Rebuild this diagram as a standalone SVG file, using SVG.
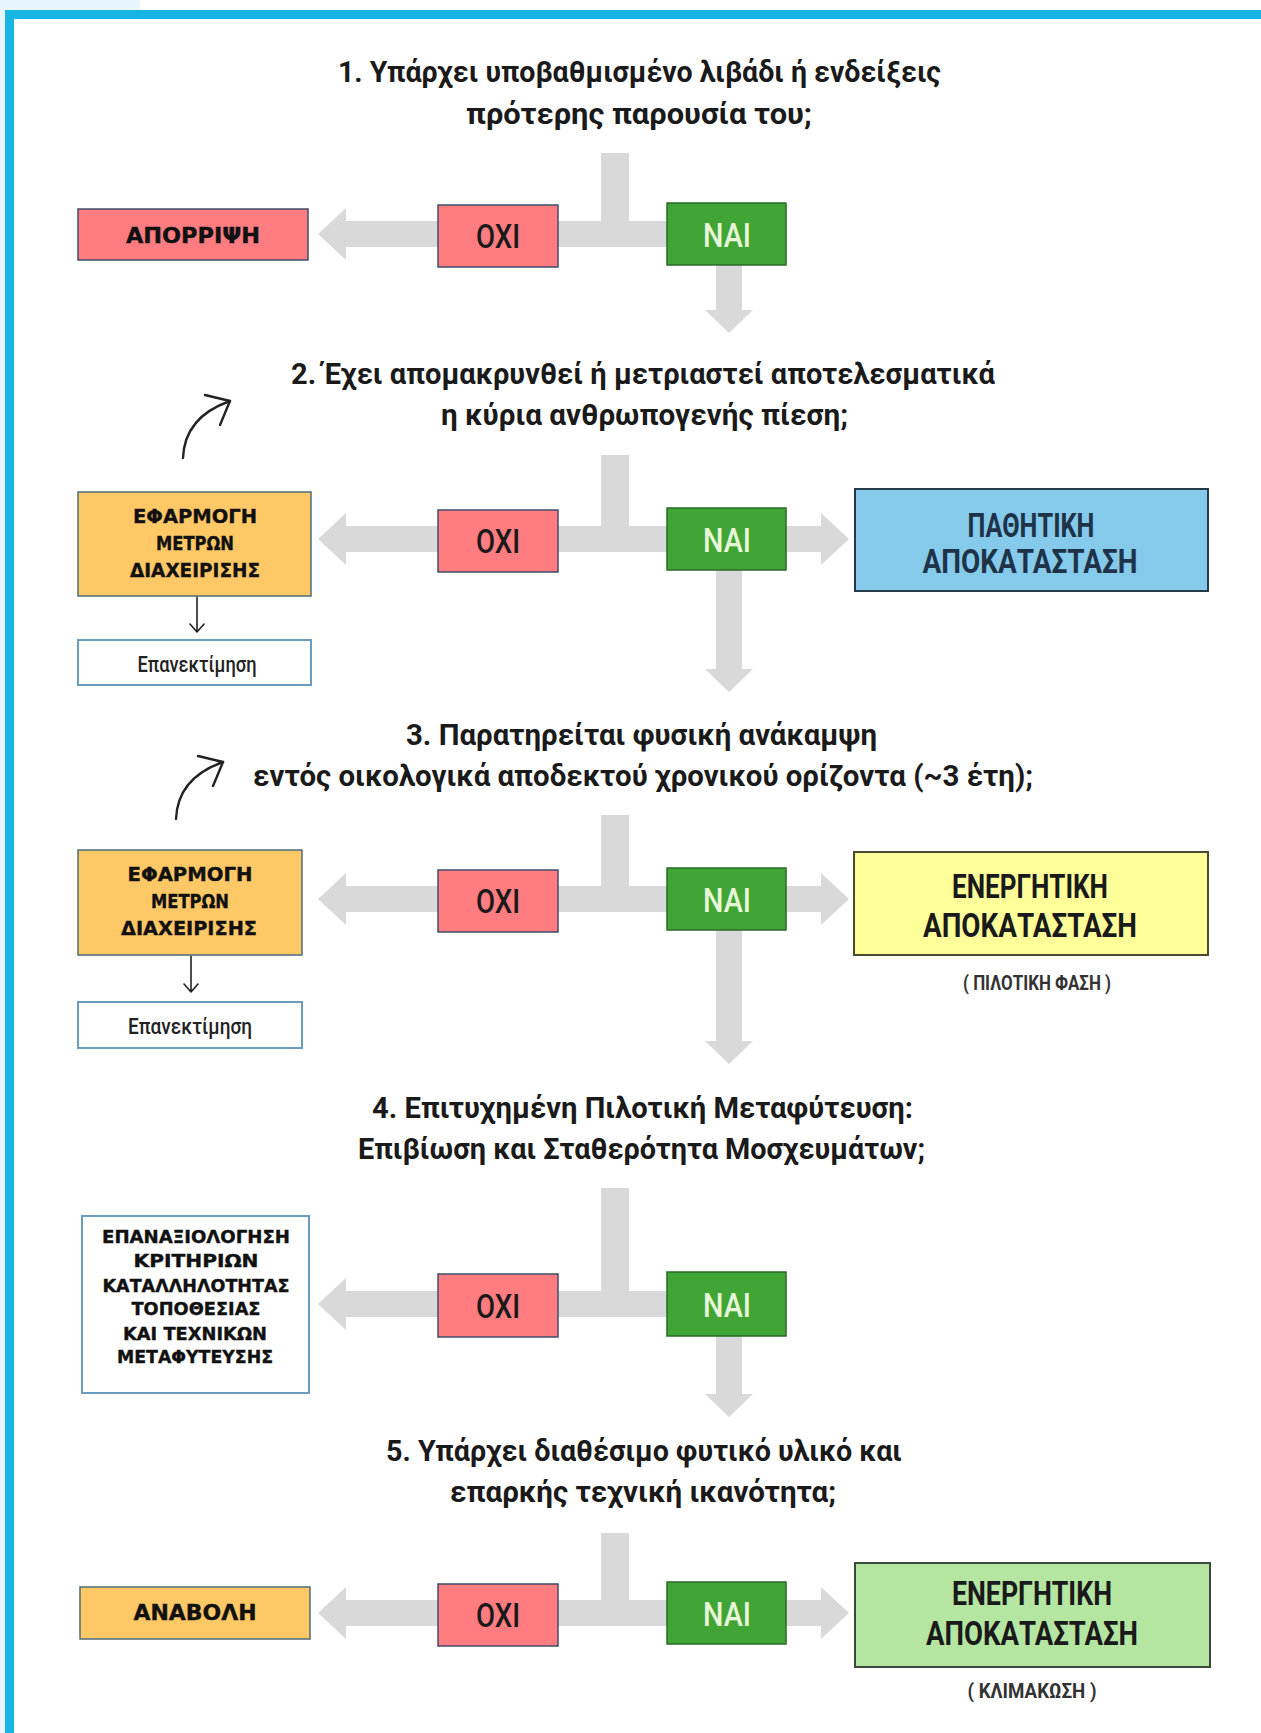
<svg xmlns="http://www.w3.org/2000/svg" width="1261" height="1733" viewBox="0 0 1261 1733">
<defs>
<style>
.title{font-family:"Roboto","Noto Sans","DejaVu Sans",sans-serif;font-weight:700;font-size:30px;fill:#1a1a1a}
.yn{font-family:"Roboto","Noto Sans","DejaVu Sans",sans-serif;font-weight:500;font-size:34px;text-anchor:middle}
.heavy{font-family:"DejaVu Sans","Noto Sans",sans-serif;font-weight:700;fill:#111;stroke:#111;stroke-width:0.4;text-anchor:middle}
.big{font-family:"Roboto","Noto Sans","DejaVu Sans",sans-serif;font-weight:700;font-size:33px;text-anchor:middle}
.sub{font-family:"Roboto","Noto Sans","DejaVu Sans",sans-serif;font-weight:700;font-size:20px;fill:#333;text-anchor:middle}
.re{font-family:"Roboto","Noto Sans","DejaVu Sans",sans-serif;font-weight:500;font-size:22px;fill:#222;text-anchor:middle}
.gray{fill:#d9d9d9}
.oxi{fill:#ff7c80;stroke:#3f4d6a;stroke-width:1.5}
.nai{fill:#40a535;stroke:#2a6a2a;stroke-width:1.5}
.orange{fill:#ffc866;stroke:#4d6b78;stroke-width:1.5}
.white{fill:#ffffff;stroke:#6b9bbd;stroke-width:2}
.pen{fill:none;stroke:#222;stroke-width:2.4;stroke-linecap:round;stroke-linejoin:round}
.thin{fill:none;stroke:#222;stroke-width:1.6;stroke-linecap:round;stroke-linejoin:round}
</style>
</defs>
<rect x="0" y="0" width="1261" height="1733" fill="#ffffff"/>
<rect x="0" y="0" width="140" height="10" fill="#e6f6fc"/>
<rect x="0" y="0" width="5" height="1733" fill="#e6f6fc"/>
<rect x="5" y="10" width="1256" height="9" fill="#18b4e4"/>
<rect x="5" y="10" width="9" height="1723" fill="#18b4e4"/>

<g id="connectors">
<!-- section 1 -->
<rect class="gray" x="601" y="153" width="28" height="81"/>
<path class="gray" d="M318,234 L346,208 L346,221 L700,221 L700,247 L346,247 L346,260 Z"/>
<path class="gray" d="M716,250 L742,250 L742,310 L753,310 L729,333 L705,310 L716,310 Z"/>
<!-- section 2 -->
<rect class="gray" x="601" y="455" width="28" height="84"/>
<path class="gray" d="M318,539 L346,513 L346,526 L700,526 L700,552 L346,552 L346,565 Z"/>
<path class="gray" d="M760,526 L821,526 L821,513 L849,539 L821,565 L821,552 L760,552 Z"/>
<path class="gray" d="M716,555 L742,555 L742,669 L753,669 L729,692 L705,669 L716,669 Z"/>
<path class="pen" d="M183,458 C184,432 199,412 230,401"/>
<path class="pen" d="M205,395 L230,401 L220,425"/>
<path class="thin" d="M197,597 L197,632 M190,624 L197,632 L204,624"/>
<!-- section 3 -->
<rect class="gray" x="601" y="815" width="28" height="84"/>
<path class="gray" d="M318,899 L346,873 L346,886 L700,886 L700,912 L346,912 L346,925 Z"/>
<path class="gray" d="M760,886 L821,886 L821,873 L849,899 L821,925 L821,912 L760,912 Z"/>
<path class="gray" d="M716,915 L742,915 L742,1041 L753,1041 L729,1064 L705,1041 L716,1041 Z"/>
<path class="pen" d="M176,819 C177,793 192,773 223,762"/>
<path class="pen" d="M198,756 L223,762 L213,786"/>
<path class="thin" d="M191,956 L191,992 M184,984 L191,992 L198,984"/>
<!-- section 4 -->
<rect class="gray" x="601" y="1188" width="28" height="116"/>
<path class="gray" d="M318,1304 L346,1278 L346,1291 L700,1291 L700,1317 L346,1317 L346,1330 Z"/>
<path class="gray" d="M716,1320 L742,1320 L742,1394 L753,1394 L729,1417 L705,1394 L716,1394 Z"/>
<!-- section 5 -->
<rect class="gray" x="601" y="1533" width="28" height="80"/>
<path class="gray" d="M318,1613 L346,1587 L346,1600 L700,1600 L700,1626 L346,1626 L346,1639 Z"/>
<path class="gray" d="M760,1600 L821,1600 L821,1587 L849,1613 L821,1639 L821,1626 L760,1626 Z"/>
</g>

<!-- Section 1 -->
<g id="q1">
<text class="title" x="338" y="82" textLength="603" lengthAdjust="spacingAndGlyphs">1. Υπάρχει υποβαθμισμένο λιβάδι ή ενδείξεις</text>
<text class="title" x="466" y="124" textLength="346" lengthAdjust="spacingAndGlyphs">πρότερης παρουσία του;</text>
</g>
<g id="oxi1"><rect class="oxi" x="438" y="205" width="120" height="62"/><text class="yn" x="498" y="248" fill="#1a1a1a" textLength="44" lengthAdjust="spacingAndGlyphs">ΟΧΙ</text></g>
<g id="nai1"><rect class="nai" x="667" y="203" width="119" height="62"/><text class="yn" x="727" y="247" fill="#e8f6d8" textLength="48" lengthAdjust="spacingAndGlyphs">ΝΑΙ</text></g>
<g id="reject"><rect class="oxi" x="78" y="209" width="230" height="51"/><text class="heavy" x="193" y="243" font-size="21" textLength="134" lengthAdjust="spacingAndGlyphs">ΑΠΟΡΡΙΨΗ</text></g>

<!-- Section 2 -->
<g id="q2">
<text class="title" x="291" y="384" textLength="704" lengthAdjust="spacingAndGlyphs">2. Έχει απομακρυνθεί ή μετριαστεί αποτελεσματικά</text>
<text class="title" x="441" y="425" textLength="407" lengthAdjust="spacingAndGlyphs">η κύρια ανθρωπογενής πίεση;</text>
</g>
<g id="oxi2"><rect class="oxi" x="438" y="510" width="120" height="62"/><text class="yn" x="498" y="553" fill="#1a1a1a" textLength="44" lengthAdjust="spacingAndGlyphs">ΟΧΙ</text></g>
<g id="nai2"><rect class="nai" x="667" y="508" width="119" height="62"/><text class="yn" x="727" y="552" fill="#e8f6d8" textLength="48" lengthAdjust="spacingAndGlyphs">ΝΑΙ</text></g>
<g id="mgmt2"><rect class="orange" x="78" y="492" width="233" height="104"/>
<text class="heavy" x="195" y="523" font-size="20" textLength="124" lengthAdjust="spacingAndGlyphs">ΕΦΑΡΜΟΓΗ</text>
<text class="heavy" x="195" y="550" font-size="20" textLength="78" lengthAdjust="spacingAndGlyphs">ΜΕΤΡΩΝ</text>
<text class="heavy" x="195" y="577" font-size="20" textLength="130" lengthAdjust="spacingAndGlyphs">ΔΙΑΧΕΙΡΙΣΗΣ</text></g>
<g id="reeval2"><rect class="white" x="78" y="640" width="233" height="45"/><text class="re" x="197" y="672" textLength="119" lengthAdjust="spacingAndGlyphs">Επανεκτίμηση</text></g>
<g id="passive"><rect x="855" y="489" width="353" height="102" fill="#85caeb" stroke="#263a4a" stroke-width="2"/>
<text class="big" x="1031" y="537" fill="#1e3348" textLength="127" lengthAdjust="spacingAndGlyphs">ΠΑΘΗΤΙΚΗ</text>
<text class="big" x="1030" y="573" fill="#1e3348" textLength="215" lengthAdjust="spacingAndGlyphs">ΑΠΟΚΑΤΑΣΤΑΣΗ</text></g>

<!-- Section 3 -->
<g id="q3">
<text class="title" x="406" y="745" textLength="471" lengthAdjust="spacingAndGlyphs">3. Παρατηρείται φυσική ανάκαμψη</text>
<text class="title" x="253" y="786" textLength="780" lengthAdjust="spacingAndGlyphs">εντός οικολογικά αποδεκτού χρονικού ορίζοντα (~3 έτη);</text>
</g>
<g id="oxi3"><rect class="oxi" x="438" y="870" width="120" height="62"/><text class="yn" x="498" y="913" fill="#1a1a1a" textLength="44" lengthAdjust="spacingAndGlyphs">ΟΧΙ</text></g>
<g id="nai3"><rect class="nai" x="667" y="868" width="119" height="62"/><text class="yn" x="727" y="912" fill="#e8f6d8" textLength="48" lengthAdjust="spacingAndGlyphs">ΝΑΙ</text></g>
<g id="mgmt3"><rect class="orange" x="78" y="850" width="224" height="105"/>
<text class="heavy" x="190" y="881" font-size="20" textLength="125" lengthAdjust="spacingAndGlyphs">ΕΦΑΡΜΟΓΗ</text>
<text class="heavy" x="190" y="908" font-size="20" textLength="78" lengthAdjust="spacingAndGlyphs">ΜΕΤΡΩΝ</text>
<text class="heavy" x="189" y="935" font-size="20" textLength="136" lengthAdjust="spacingAndGlyphs">ΔΙΑΧΕΙΡΙΣΗΣ</text></g>
<g id="reeval3"><rect class="white" x="78" y="1002" width="224" height="46"/><text class="re" x="190" y="1034" textLength="124" lengthAdjust="spacingAndGlyphs">Επανεκτίμηση</text></g>
<g id="active-pilot"><rect x="854" y="852" width="354" height="103" fill="#ffff99" stroke="#4b4b30" stroke-width="2"/>
<text class="big" x="1030" y="898" fill="#1a1a1a" textLength="156" lengthAdjust="spacingAndGlyphs">ΕΝΕΡΓΗΤΙΚΗ</text>
<text class="big" x="1030" y="937" fill="#1a1a1a" textLength="214" lengthAdjust="spacingAndGlyphs">ΑΠΟΚΑΤΑΣΤΑΣΗ</text>
<text class="sub" x="1037" y="990" textLength="148" lengthAdjust="spacingAndGlyphs">( ΠΙΛΟΤΙΚΗ ΦΑΣΗ )</text></g>

<!-- Section 4 -->
<g id="q4">
<text class="title" x="372" y="1118" textLength="541" lengthAdjust="spacingAndGlyphs">4. Επιτυχημένη Πιλοτική Μεταφύτευση:</text>
<text class="title" x="358" y="1159" textLength="567" lengthAdjust="spacingAndGlyphs">Επιβίωση και Σταθερότητα Μοσχευμάτων;</text>
</g>
<g id="oxi4"><rect class="oxi" x="438" y="1274" width="120" height="63"/><text class="yn" x="498" y="1318" fill="#1a1a1a" textLength="44" lengthAdjust="spacingAndGlyphs">ΟΧΙ</text></g>
<g id="nai4"><rect class="nai" x="667" y="1272" width="119" height="64"/><text class="yn" x="727" y="1317" fill="#e8f6d8" textLength="48" lengthAdjust="spacingAndGlyphs">ΝΑΙ</text></g>
<g id="reassess"><rect class="white" x="82" y="1216" width="227" height="177"/>
<text class="heavy" x="196" y="1243" font-size="18" textLength="188" lengthAdjust="spacingAndGlyphs">ΕΠΑΝΑΞΙΟΛΟΓΗΣΗ</text>
<text class="heavy" x="196" y="1267" font-size="18" textLength="125" lengthAdjust="spacingAndGlyphs">ΚΡΙΤΗΡΙΩΝ</text>
<text class="heavy" x="196" y="1292" font-size="18" textLength="187" lengthAdjust="spacingAndGlyphs">ΚΑΤΑΛΛΗΛΟΤΗΤΑΣ</text>
<text class="heavy" x="196" y="1315" font-size="18" textLength="129" lengthAdjust="spacingAndGlyphs">ΤΟΠΟΘΕΣΙΑΣ</text>
<text class="heavy" x="195" y="1340" font-size="18" textLength="144" lengthAdjust="spacingAndGlyphs">ΚΑΙ ΤΕΧΝΙΚΩΝ</text>
<text class="heavy" x="195" y="1363" font-size="18" textLength="156" lengthAdjust="spacingAndGlyphs">ΜΕΤΑΦΥΤΕΥΣΗΣ</text></g>

<!-- Section 5 -->
<g id="q5">
<text class="title" x="386" y="1461" textLength="516" lengthAdjust="spacingAndGlyphs">5. Υπάρχει διαθέσιμο φυτικό υλικό και</text>
<text class="title" x="450" y="1502" textLength="386" lengthAdjust="spacingAndGlyphs">επαρκής τεχνική ικανότητα;</text>
</g>
<g id="oxi5"><rect class="oxi" x="438" y="1584" width="120" height="62"/><text class="yn" x="498" y="1627" fill="#1a1a1a" textLength="44" lengthAdjust="spacingAndGlyphs">ΟΧΙ</text></g>
<g id="nai5"><rect class="nai" x="667" y="1582" width="119" height="62"/><text class="yn" x="727" y="1626" fill="#e8f6d8" textLength="48" lengthAdjust="spacingAndGlyphs">ΝΑΙ</text></g>
<g id="postpone"><rect class="orange" x="80" y="1587" width="230" height="52"/><text class="heavy" x="195" y="1620" font-size="21" textLength="123" lengthAdjust="spacingAndGlyphs">ΑΝΑΒΟΛΗ</text></g>
<g id="active-scale"><rect x="855" y="1563" width="355" height="104" fill="#b4e6a2" stroke="#3a4a3a" stroke-width="2"/>
<text class="big" x="1032" y="1605" fill="#1a1a1a" textLength="160" lengthAdjust="spacingAndGlyphs">ΕΝΕΡΓΗΤΙΚΗ</text>
<text class="big" x="1032" y="1645" fill="#1a1a1a" textLength="212" lengthAdjust="spacingAndGlyphs">ΑΠΟΚΑΤΑΣΤΑΣΗ</text>
<text class="sub" x="1032" y="1698" textLength="129" lengthAdjust="spacingAndGlyphs">( ΚΛΙΜΑΚΩΣΗ )</text></g>
</svg>
